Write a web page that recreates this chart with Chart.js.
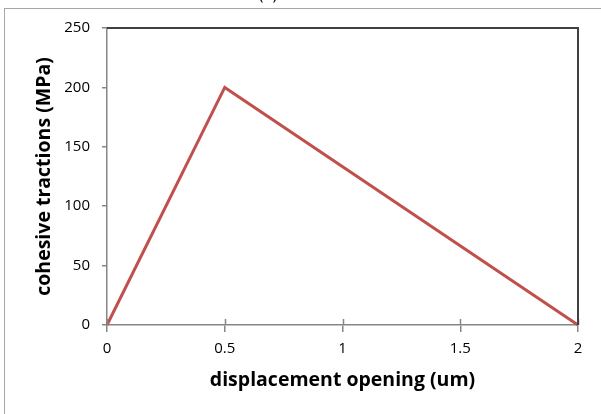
<!DOCTYPE html>
<html>
<head>
<meta charset="utf-8">
<script src="https://cdn.jsdelivr.net/npm/chart.js@4"></script>
<style>
  html, body { margin: 0; padding: 0; background: #fff; overflow: hidden; }
  #wrap { position: relative; width: 601px; height: 414px; overflow: hidden; }
  #frame { position: absolute; left: 4px; top: 8px; width: 700px; height: 500px;
           border-left: 1.5px solid #a6a6a6; border-top: 1.5px solid #a6a6a6; }
  canvas { position: absolute; left: 0; top: 0; }
</style>
</head>
<body>
<div id="wrap">
  <div id="frame"></div>
  <canvas id="myChart" width="601" height="414"></canvas>
</div>
<script>
/*** chart data ***/
var openings = [0, 0.5, 2];
var tractions = [0, 200, 0];
var xTicks = [0, 0.5, 1, 1.5, 2];
var yTicks = [0, 50, 100, 150, 200, 250];

var fontName = "'Open Sans', 'Noto Sans', sans-serif";

// top + right frame of the plot, and x ticks that cross the axis
var plotBox = {
  id: "plotBox",
  afterDatasetsDraw: function (chart) {
    var c = chart.ctx, a = chart.chartArea, xs = chart.scales.x;
    c.save();
    c.strokeStyle = "#868686";
    c.lineWidth = 1.5;
    xTicks.forEach(function (v) {
      var px = Math.round(xs.getPixelForValue(v)) + 0.5;
      c.beginPath();
      c.moveTo(px, a.bottom);
      c.lineTo(px, a.bottom - 6);
      c.stroke();
    });
    c.strokeStyle = "#404040";
    c.lineWidth = 2;
    c.beginPath();
    c.moveTo(a.left, a.top);
    c.lineTo(a.right, a.top);
    c.lineTo(a.right, a.bottom);
    c.stroke();
    // caption above the frame, mostly cut off
    c.fillStyle = "#000";
    c.font = "16px " + fontName;
    c.textAlign = "center";
    c.textBaseline = "alphabetic";
    c.fillText("(a)", 268, 0);
    c.restore();
  },
};

var ctx = document.getElementById("myChart").getContext("2d");
var chart = new Chart(ctx, {
  type: "line",
  data: {
    datasets: [
      {
        label: "cohesive law",
        data: openings.map(function (x, i) { return { x: x, y: tractions[i] }; }),
        borderColor: "#c0504d",
        borderWidth: 3,
        pointRadius: 0,
        fill: false,
        tension: 0,
        clip: 6,
      },
    ],
  },
  options: {
    responsive: false,
    animation: false,
    layout: { padding: { left: 0, top: 28, right: 23, bottom: 0 } },
    plugins: { legend: { display: false }, tooltip: { enabled: false } },
    scales: {
      x: {
        type: "linear",
        min: 0,
        max: 2,
        afterFit: function (s) { s.height = 89; },
        afterBuildTicks: function (s) { s.ticks = xTicks.map(function (v) { return { value: v }; }); },
        grid: { drawOnChartArea: false, drawTicks: true, tickLength: 7, color: "#868686", lineWidth: 1.5 },
        border: { color: "#868686", width: 1.5 },
        ticks: {
          padding: 8,
          color: "#000",
          font: { family: fontName, size: 15 },
          callback: function (v) { return String(v); },
        },
        title: {
          display: true,
          text: "displacement opening (um)",
          color: "#000",
          font: { family: fontName, size: 19.5, weight: "bold" },
          padding: { top: 0, bottom: 22 },
        },
      },
      y: {
        min: 0,
        max: 250,
        afterFit: function (s) { s.width = 107; },
        afterBuildTicks: function (s) { s.ticks = yTicks.map(function (v) { return { value: v }; }); },
        grid: { drawOnChartArea: false, drawTicks: true, tickLength: 5, color: "#868686", lineWidth: 1.5 },
        border: { color: "#868686", width: 1.5 },
        ticks: { padding: 12, color: "#000", font: { family: fontName, size: 15 } },
        title: {
          display: true,
          text: "cohesive tractions (MPa)",
          color: "#000",
          font: { family: fontName, size: 19.5, weight: "bold" },
          padding: { top: 33, bottom: 0 },
        },
      },
    },
  },
  plugins: [plotBox],
});
</script>
</body>
</html>
